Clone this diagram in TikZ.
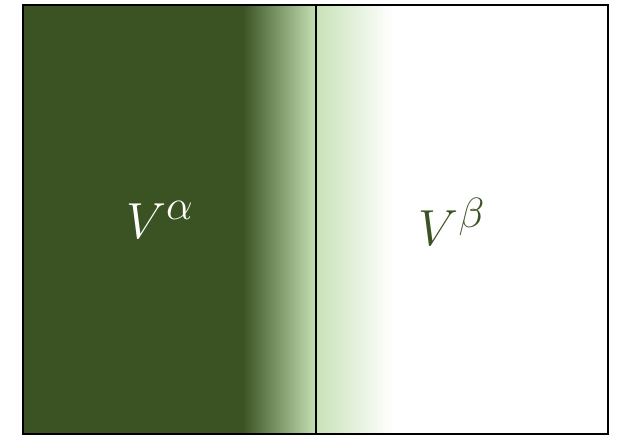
\documentclass[tikz,border=0pt]{standalone}
\usepackage{amsmath,amssymb}
\usepackage{tikz}
\usetikzlibrary{positioning}
\definecolor{phasedark}{RGB}{59,83,35}
\definecolor{phaselight}{RGB}{197,224,180}
\tikzset{
  phaseframe/.style={draw=black,line width=1.8pt},
  phaseinterface/.style={draw=black,line width=1.3pt},
  phaselabel/.style={font=\Huge,scale=1.45,inner sep=0pt}
}
\begin{document}
\begin{tikzpicture}[x=0.25mm,y=-0.25mm]
  \useasboundingbox (0,0) rectangle (620,436);
  % Alpha phase
  \fill[phasedark] (23,5) rectangle (243,434);
  \shade[left color=phasedark,right color=phaselight] (242.5,5) rectangle (316,434);
  % Beta phase
  \shade[left color=phaselight!95!white,right color=white] (316,5) rectangle (393,434);
  % Interface and frame
  \coordinate (itop) at (316,5);
  \coordinate (ibot) at (316,434);
  \draw[phaseinterface] (itop) -- (ibot);
  \draw[phaseframe] (23,5) rectangle (608,434);
  % Labels
  \node[phaselabel,text=white] (valpha) at (160,220) {$V^{\alpha}$};
  \node[phaselabel,text=phasedark] (vbeta) at (452,222) {$V^{\beta}$};
\end{tikzpicture}
\end{document}
